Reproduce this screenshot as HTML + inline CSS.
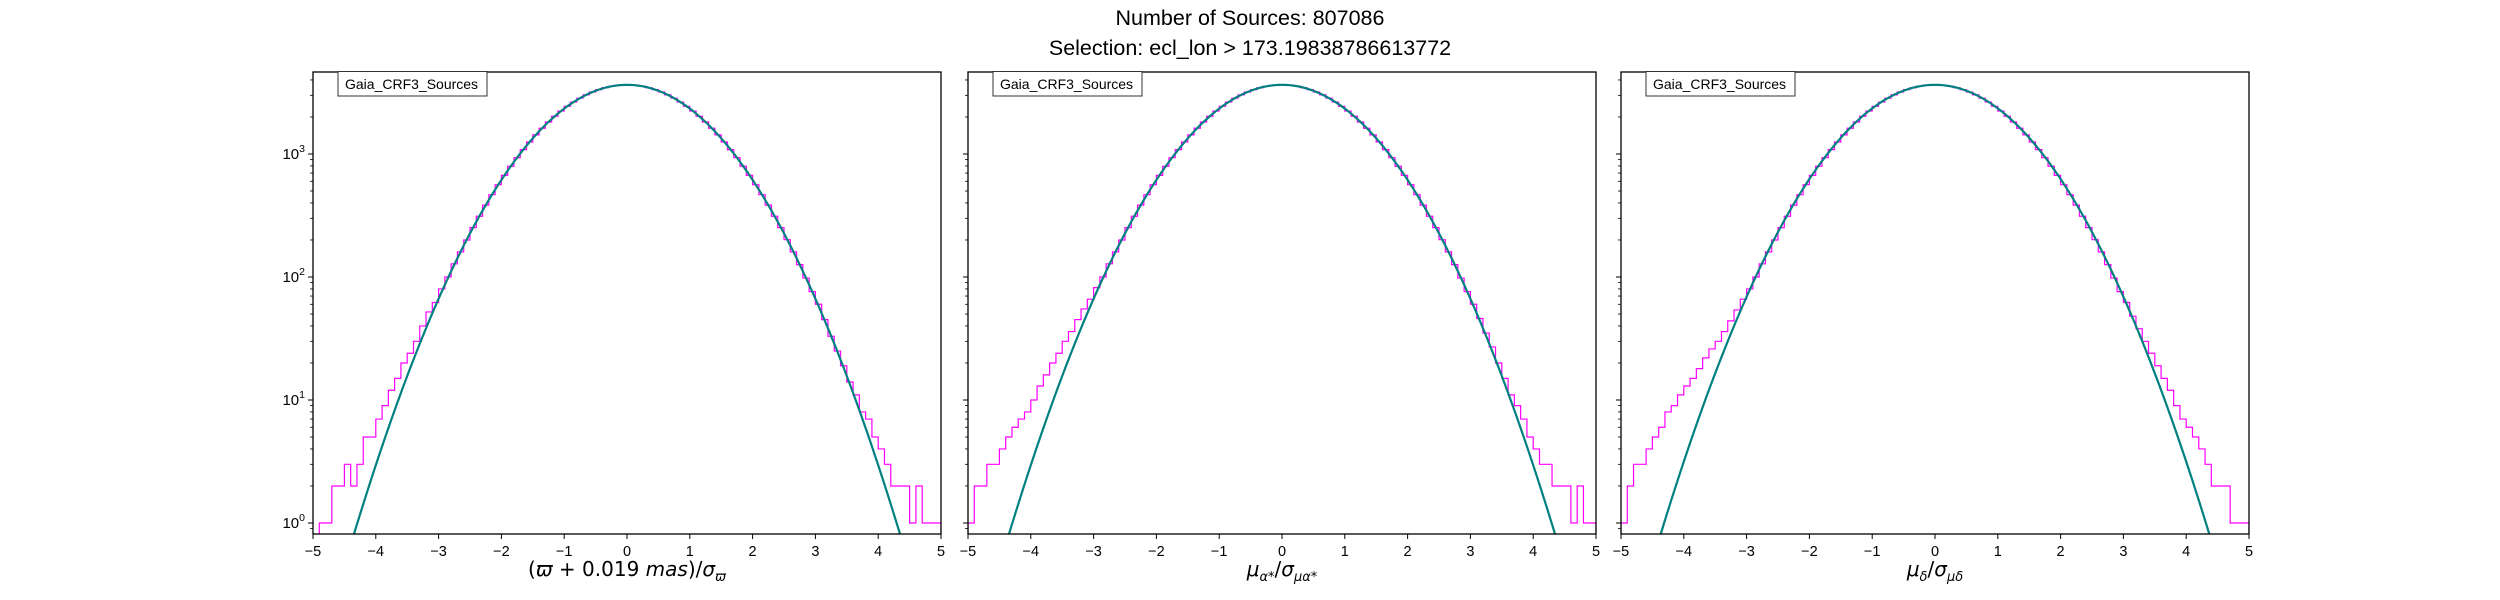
<!DOCTYPE html>
<html><head><meta charset="utf-8">
<style>
body{margin:0;background:#fff;}
svg{display:block;font-family:"Liberation Sans","DejaVu Sans",sans-serif;}
</style></head>
<body>
<svg id="fig" width="2500" height="600" viewBox="0 0 2500 600" xmlns="http://www.w3.org/2000/svg">
<text x="1250" y="25" font-size="21.5" text-anchor="middle">Number of Sources: 807086</text>
<text x="1250" y="55" font-size="21.5" text-anchor="middle">Selection: ecl_lon &gt; 173.19838786613772</text>
</svg>
<script>
// ---- data ----
const binStart = -5.0;
const binWidth = 0.1;
const countsParallax = [0,1,1,2,2,3,2,3,5,5,7,9,12,15,20,24,30,40,52,62,80,100,128,160,200,252,312,384,467,563,670,795,933,1086,1252,1431,1620,1820,2026,2235,2441,2644,2843,3025,3190,3336,3456,3550,3614,3646,3646,3614,3550,3456,3336,3190,3025,2843,2644,2441,2235,2026,1820,1620,1431,1252,1086,933,795,670,563,467,384,312,252,201,160,126,98,76,60,45,33,25,19,14,11,8,7,5,4,3,2,2,2,1,2,1,1,1];
const countsPmra = [1,2,2,3,3,4,5,6,7,8,10,13,16,20,24,30,36,45,55,66,82,100,128,160,200,252,312,384,467,563,670,795,933,1086,1252,1431,1620,1820,2026,2235,2441,2644,2843,3025,3190,3336,3456,3550,3614,3646,3646,3614,3550,3456,3336,3190,3025,2843,2644,2441,2235,2026,1820,1620,1431,1252,1086,933,795,670,563,467,384,312,252,201,160,126,98,76,60,46,35,27,20,15,11,9,7,5,4,3,3,2,2,2,1,2,1,1];
const countsPmdec = [1,2,3,3,4,5,6,8,9,11,13,15,18,22,26,30,36,44,54,66,80,100,128,160,200,252,312,384,467,563,670,795,933,1086,1252,1431,1620,1820,2026,2235,2441,2644,2843,3025,3190,3336,3456,3550,3614,3646,3646,3614,3550,3456,3336,3190,3025,2843,2644,2441,2235,2026,1820,1620,1431,1252,1086,933,795,670,563,467,384,312,252,201,160,126,98,76,62,48,38,30,24,19,15,12,9,7,6,5,4,3,2,2,2,1,1,1];
const fitAmp = [3650,3650,3650];
const fitMu = [0.0,0.0,0.0];
const fitSigma = [1.06,1.06,1.065];
const xTicks = [-5,-4,-3,-2,-1,0,1,2,3,4,5];
const yTickExp = [0,1,2,3];
const legendLabel = "Gaia_CRF3_Sources";

// ---- layout ----
const panels = [
  {left:313, counts:countsParallax, label:'(<tspan font-style="italic">ϖ</tspan> + 0.019 <tspan font-style="italic">mas</tspan>)/<tspan font-style="italic">σ</tspan><tspan font-style="italic" font-size="13" dy="5">ϖ</tspan>', name:'parallax'},
  {left:968, counts:countsPmra, label:'<tspan font-style="italic">μ</tspan><tspan font-style="italic" font-size="13" dy="5">α*</tspan><tspan dy="-5">/</tspan><tspan font-style="italic">σ</tspan><tspan font-style="italic" font-size="13" dy="5">μα*</tspan>', name:'pmra'},
  {left:1621, counts:countsPmdec, label:'<tspan font-style="italic">μ</tspan><tspan font-style="italic" font-size="13" dy="5">δ</tspan><tspan dy="-5">/</tspan><tspan font-style="italic">σ</tspan><tspan font-style="italic" font-size="13" dy="5">μδ</tspan>', name:'pmdec'}
];
const W = 628, TOP = 72, BOT = 534;
const svg = document.getElementById('fig');
const NS = 'http://www.w3.org/2000/svg';
function mk(tag, attrs, parent){const e=document.createElementNS(NS,tag);for(const k in attrs)e.setAttribute(k,attrs[k]);(parent||svg).appendChild(e);return e;}
function yScale(v){return 523 - 123*Math.log10(v);}

panels.forEach((p, pi) => {
  const xs = x => p.left + (x + 5) / 10 * W;
  const g = mk('g', {});
  
  
  const clipId = 'clip' + pi;
  const cp = mk('clipPath', {id: clipId}, g);
  mk('rect', {x:p.left, y:TOP, width:W, height:BOT-TOP}, cp);

  let d = '';
  p.counts.forEach((c, i) => {
    const x0 = xs(binStart + i*binWidth), x1 = xs(binStart + (i+1)*binWidth);
    const y = c > 0 ? yScale(c) : BOT + 5;
    d += (i === 0 ? 'M' + x0 + ',' + (BOT+5) + 'L' : 'L') + x0 + ',' + y + 'L' + x1 + ',' + y;
  });
  d += 'L' + xs(binStart + p.counts.length*binWidth) + ',' + (BOT+5);
  const h = mk('path', {d:d, fill:'none', stroke:'#ff00ff', 'stroke-width':1.2, 'clip-path':'url(#'+clipId+')'}, g);
  
  

  let fd = '';
  for (let k = 0; k <= 400; k++) {
    const x = -5 + k * 0.025;
    const v = fitAmp[pi] * Math.exp(-Math.pow(x - fitMu[pi], 2) / (2 * fitSigma[pi] * fitSigma[pi]));
    const y = Math.min(yScale(Math.max(v, 1e-3)), BOT + 20);
    fd += (k === 0 ? 'M' : 'L') + xs(x).toFixed(2) + ',' + y.toFixed(2);
  }
  const f = mk('path', {d:fd, fill:'none', stroke:'#008080', 'stroke-width':2.2, 'clip-path':'url(#'+clipId+')'}, g);
  
  

  const fr = mk('rect', {x:p.left, y:TOP, width:W, height:BOT-TOP, fill:'none', stroke:'#000', 'stroke-width':1.3}, g);
  
  

  xTicks.forEach(t => {
    const x = xs(t);
    mk('line', {x1:x, y1:BOT, x2:x, y2:BOT+5, stroke:'#000', 'stroke-width':1}, g);
    const tl = mk('text', {x:x, y:BOT+22, 'font-size':14.5, 'text-anchor':'middle'}, g);
    tl.textContent = (t < 0 ? '\u2212' + Math.abs(t) : String(t));
    
    
  });

  yTickExp.forEach(e => {
    const y = yScale(Math.pow(10, e));
    mk('line', {x1:p.left-5, y1:y, x2:p.left, y2:y, stroke:'#000', 'stroke-width':1}, g);
    if (pi === 0) {
      const yl = mk('text', {x:p.left-8, y:y+5, 'font-size':15, 'text-anchor':'end'}, g);
      yl.innerHTML = '10<tspan font-size="10.5" dy="-7">' + e + '</tspan>';
      
      
    }
  });
  for (let e = -1; e <= 3; e++) {
    for (let m = 2; m <= 9; m++) {
      const v = m * Math.pow(10, e);
      const y = yScale(v);
      if (y < TOP || y > BOT) continue;
      mk('line', {x1:p.left-3, y1:y, x2:p.left, y2:y, stroke:'#000', 'stroke-width':0.8}, g);
    }
  }

  const lg = mk('g', {}, g);
  
  
  mk('rect', {x:p.left+25, y:71.5, width:149, height:24.5, fill:'#fff', stroke:'#333', 'stroke-width':1}, lg);
  const lt = mk('text', {x:p.left+32, y:89, 'font-size':14}, lg);
  lt.textContent = legendLabel;

  const xl = mk('text', {x:p.left + W/2, y:576, 'font-size':20, 'text-anchor':'middle', 'font-family':'"DejaVu Sans","Liberation Sans",sans-serif'}, g);
  xl.innerHTML = p.label;
  
  
});
</script>
</body></html>
